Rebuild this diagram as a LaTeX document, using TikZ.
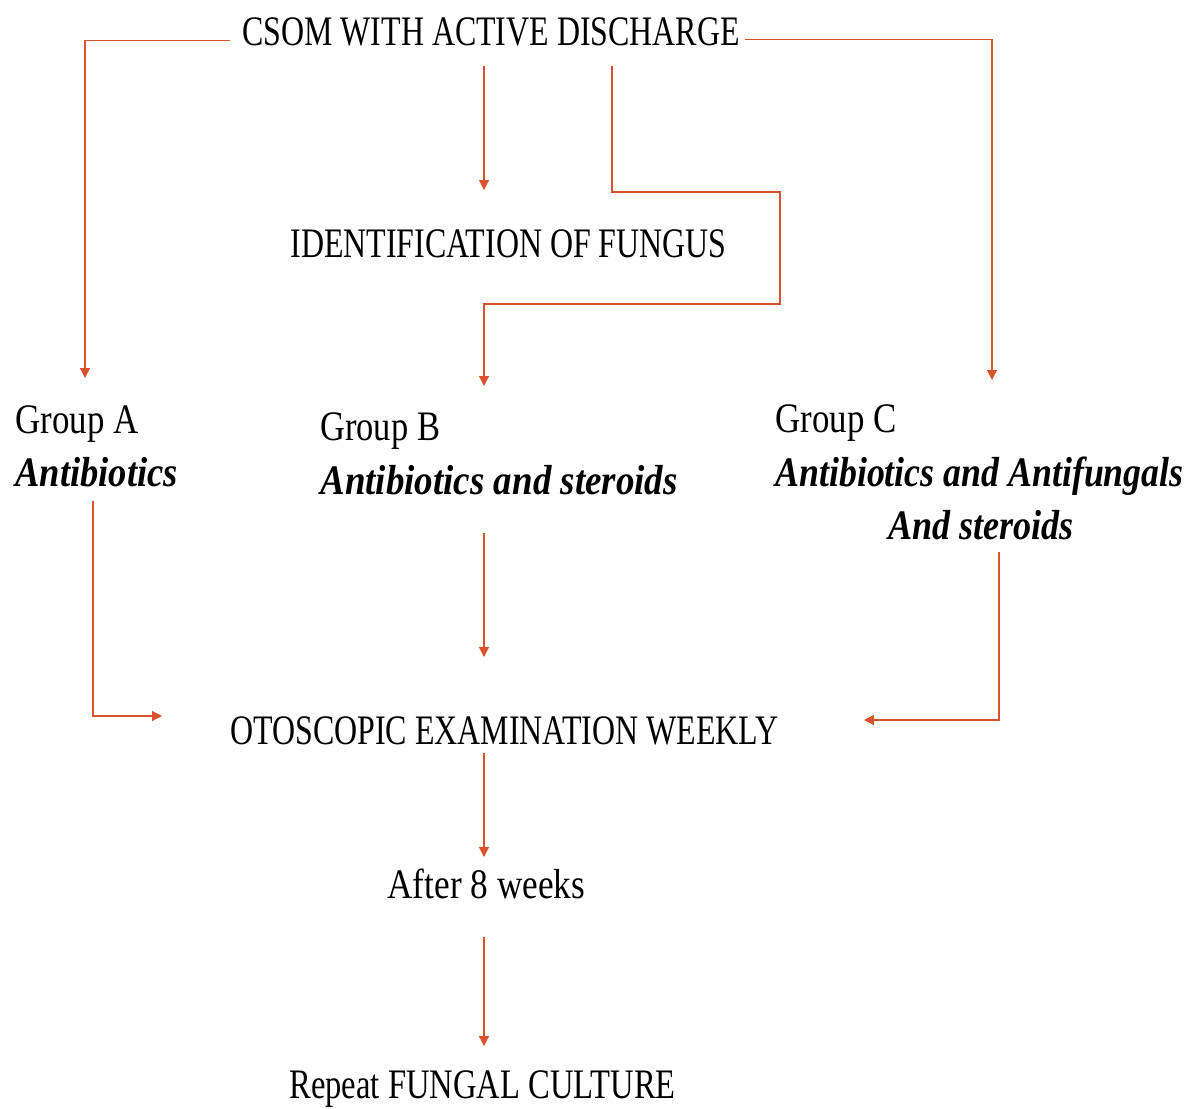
\documentclass[tikz,border=0pt]{standalone}
\usepackage{fontspec}
\setmainfont{Liberation Serif}
\usetikzlibrary{arrows.meta,calc}
\definecolor{arr}{HTML}{D9522B}
\newcommand\cnd[2][0.76]{\scalebox{#1}[1]{#2}}
\begin{document}
\begin{tikzpicture}[x=0.5pt,y=-0.5pt,
 lbl/.style={inner sep=0pt,anchor=base west,font=\fontsize{21}{24}\selectfont},
 bi/.style={lbl,font=\fontsize{21}{24}\selectfont\bfseries\itshape},
 conn/.style={draw=arr,line width=0.6pt,-{Triangle[width=5pt,length=5pt]}}]
\useasboundingbox[fill=white] (0,0) rectangle (1197,1108);
\node[lbl] (csom) at (242,45) {\cnd[0.76]{CSOM WITH ACTIVE DISCHARGE}};
\node[lbl] (ident) at (290,257) {\cnd[0.76]{IDENTIFICATION OF FUNGUS}};
\node[lbl] (ga) at (15,433) {\cnd[0.83]{Group A}};
\node[bi] (ga2) at (15,486) {\cnd[0.87]{Antibiotics}};
\node[lbl] (gb) at (320,440) {\cnd[0.82]{Group B}};
\node[bi] (gb2) at (320,494) {\cnd[0.88]{Antibiotics and steroids}};
\node[lbl] (gc) at (775,432) {\cnd[0.83]{Group C}};
\node[bi] (gc2) at (775,486) {\cnd[0.853]{Antibiotics and Antifungals}};
\node[bi,anchor=base] (gc3) at (981,539) {\cnd[0.86]{And steroids}};
\node[lbl] (oto) at (230,744) {\cnd[0.76]{OTOSCOPIC EXAMINATION WEEKLY}};
\node[lbl] (after) at (387,898) {\cnd[0.84]{After 8 weeks}};
\node[lbl] (rep) at (289,1098) {\cnd[0.776]{Repeat FUNGAL CULTURE}};
% free ends
\coordinate (eA) at (85,378);
\coordinate (eC) at (992,380);
\coordinate (eI) at (484,190);
\coordinate (b1) at (612,192);
\coordinate (b2) at (780,304);
\coordinate (eB) at (484,386);
\coordinate (eOA) at (162,716);
\coordinate (eOB) at (484,657);
\coordinate (eOC) at (864,720);
\coordinate (eAf) at (484,857);
\coordinate (eR) at (484,1046);
% connectors
\draw[conn] ($(csom.west)+(-12,9)$) -| (eA);
\draw[conn] ($(csom.east)+(5,8)$) -| (eC);
\draw[conn] ($(eI |- csom.south)+(0,20)$) -- (eI);
\draw[conn] ($(b1 |- csom.south)+(0,20)$) -- (b1) -| (b2) -| (eB);
\draw[conn] ($(ga2.south west)+(78,14)$) |- (eOA);
\draw[conn] ($(eOB |- gb2.south)+(0,38)$) -- (eOB);
\draw[conn] ($(gc3.south)+(18,12)$) |- (eOC);
\draw[conn] ($(eAf |- oto.south)+(0,8)$) -- (eAf);
\draw[conn] ($(eR |- after.south)+(0,38)$) -- (eR);
\end{tikzpicture}
\end{document}
